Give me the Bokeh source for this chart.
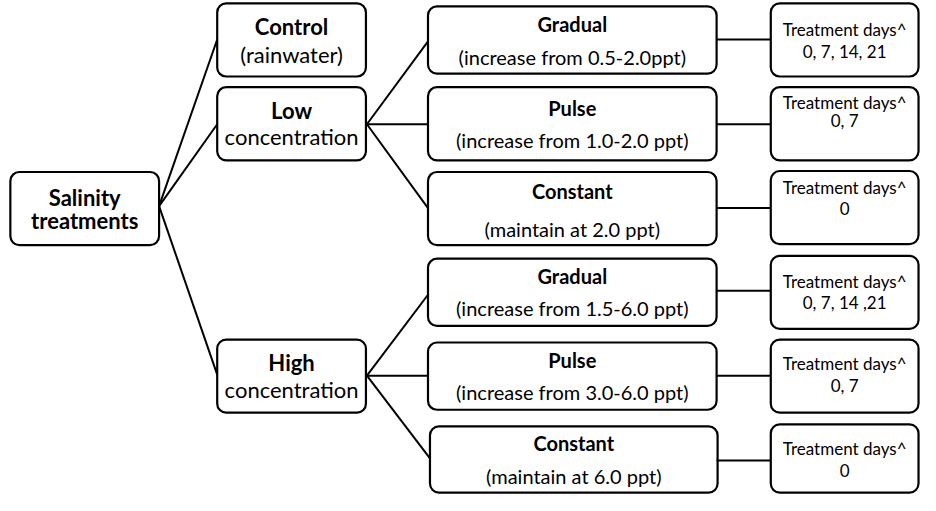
from bokeh.plotting import figure
from bokeh.models import Range1d, BoxAnnotation, ColumnDataSource
from bokeh.core.properties import value
from bokeh.embed import file_html
from bokeh.resources import INLINE

# ---------------- content ----------------
root_lines = ["Salinity", "treatments"]
level1_titles = ["Control", "Low", "High"]
level1_subs = ["(rainwater)", "concentration", "concentration"]
method_titles = ["Gradual", "Pulse", "Constant", "Gradual", "Pulse", "Constant"]
method_details = ["(increase from 0.5-2.0ppt)", "(increase from 1.0-2.0 ppt)",
                  "(maintain at 2.0 ppt)", "(increase from 1.5-6.0 ppt)",
                  "(increase from 3.0-6.0 ppt)", "(maintain at 6.0 ppt)"]
days_header = "Treatment days^"
days_values = ["0, 7, 14, 21", "0, 7", "0", "0, 7, 14 ,21", "0, 7", "0"]

# ---------------- layout (reference pixel positions) ----------------
H = 511
def Y(v):
    return H - v

root_box = (13, 164, 181, 256)
root_text_y = [207, 231]

l1_x = (223, 374)
l1_y = [(8, 83), (94, 169), (353, 428)]
l1_title_y = [32, 118, 377]
l1_sub_y = [60, 145, 404]

m_x = [(437, 730)] * 5 + [(439, 731)]
m_y = [(11, 80), (94, 169), (181, 256), (270, 339), (356, 425), (442, 510)]
m_title_y = [29, 115, 201, 288, 374, 459]
m_detail_y = [63, 148, 239, 321, 407, 493]

t_x = (785, 935)
t_y = [(8, 83), (94, 169), (180, 255), (267, 342), (353, 428), (440, 510)]
t_head_y = [35, 110, 197, 293, 378, 465]
t_val_y = [57, 128, 218, 315, 400, 487]

seg_x0 = [164, 164, 164, 375, 375, 375, 375, 375, 375] + [730] * 6
seg_y0 = [216, 216, 216, 132, 132, 132, 390, 390, 390] + [45, 132, 218, 303, 390, 477]
seg_x1 = [223, 223, 223, 437, 437, 437, 437, 437, 439] + [785] * 6
seg_y1 = [45, 132, 389, 47, 132, 218, 307, 390, 475] + [45, 132, 218, 303, 390, 477]

FONT = "Lato"

p = figure(width=920, height=495, output_backend="svg", toolbar_location=None,
           x_range=Range1d(3, 937), y_range=Range1d(-2, 506),
           min_border=0)
p.axis.visible = False
p.grid.visible = False
p.outline_line_color = None
p.background_fill_color = "white"
p.border_fill_color = "white"

p.segment(x0=seg_x0, y0=[Y(v) for v in seg_y0], x1=seg_x1, y1=[Y(v) for v in seg_y1],
          line_color="black", line_width=2)

def box(l, r, t, b):
    p.add_layout(BoxAnnotation(left=l, right=r, top=Y(t), bottom=Y(b),
                               fill_color="white", fill_alpha=1.0,
                               line_color="black", line_alpha=1.0, line_width=2.2,
                               border_radius=9, level="underlay"))

box(*root_box)
for (t, b) in l1_y:
    box(l1_x[0], l1_x[1], t, b)
for (l, r), (t, b) in zip(m_x, m_y):
    box(l, r, t, b)
for (t, b) in t_y:
    box(t_x[0], t_x[1], t, b)

def texts(xs, ys, labels, size, bold=False):
    src = ColumnDataSource(dict(x=xs, y=[Y(v) for v in ys], t=labels))
    p.text(x="x", y="y", text="t", source=src, text_align="center",
           text_baseline="middle", text_font=value(FONT), text_font_size=size,
           text_font_style="bold" if bold else "normal", text_color="black")

cx_root = (root_box[0] + root_box[1]) / 2
texts([cx_root, cx_root], root_text_y, root_lines, "22px", bold=True)

cx_l1 = (l1_x[0] + l1_x[1]) / 2
texts([cx_l1] * 3, l1_title_y, level1_titles, "22px", bold=True)
texts([cx_l1] * 3, l1_sub_y, level1_subs, "22px")

cx_m = [(l + r) / 2 for (l, r) in m_x]
texts(cx_m, m_title_y, method_titles, "20px", bold=True)
texts(cx_m, m_detail_y, method_details, "20px")

cx_t = (t_x[0] + t_x[1]) / 2
texts([cx_t] * 6, t_head_y, [days_header] * 6, "17px")
texts([cx_t] * 6, t_val_y, days_values, "17px")

open("out.html", "w").write(file_html(p, INLINE))
